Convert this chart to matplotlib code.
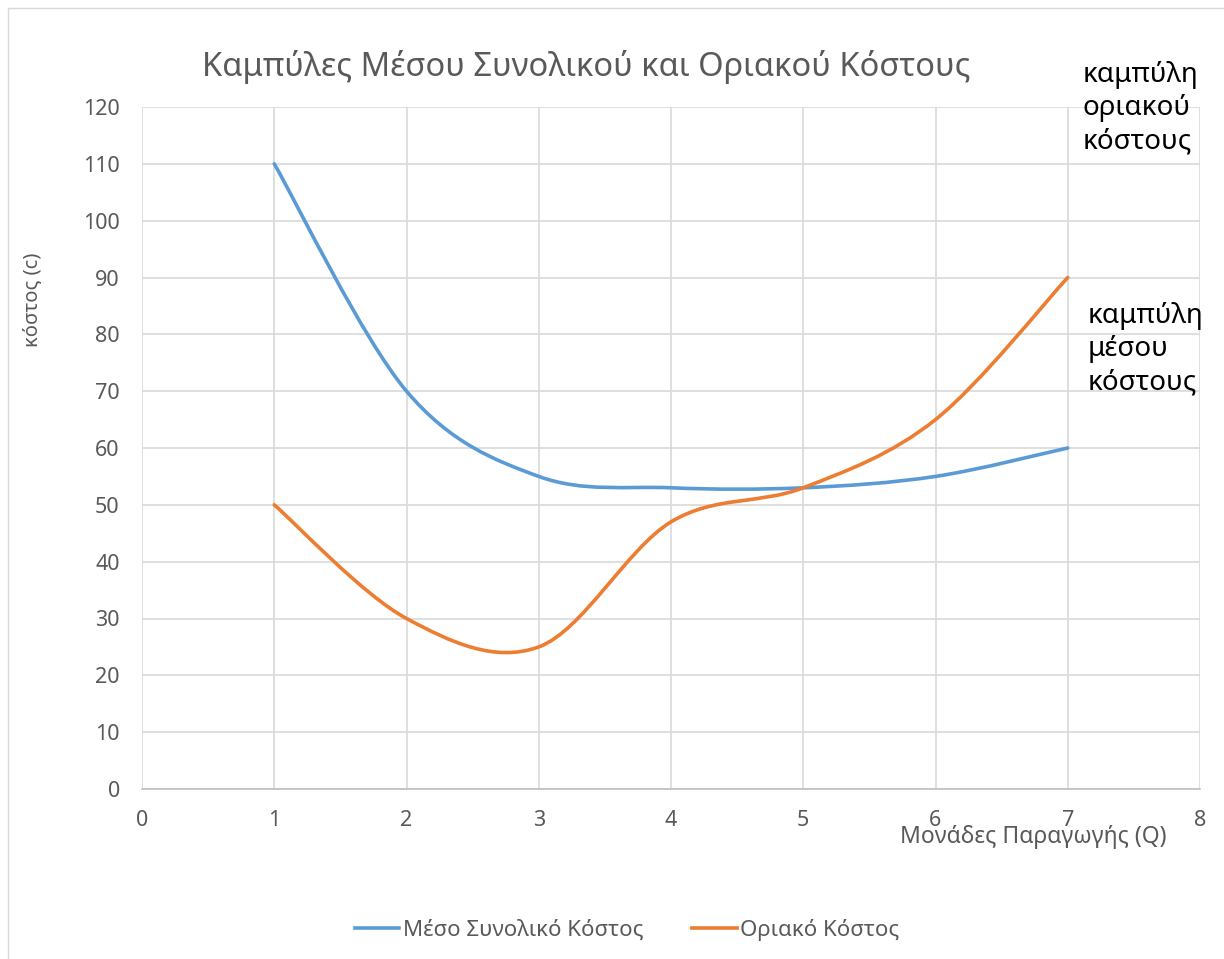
import matplotlib.pyplot as plt
from matplotlib.path import Path
from matplotlib.patches import PathPatch, Rectangle
from matplotlib.lines import Line2D

plt.rcParams['font.family'] = ['Noto Sans', 'DejaVu Sans']

# data
units = [1, 2, 3, 4, 5, 6, 7]
avg_total_cost = [110, 70, 55, 53, 53, 55, 60]
marginal_cost = [50, 30, 25, 47, 53, 65, 90]

title = 'Καμπύλες Μέσου Συνολικού και Οριακού Κόστους'
series_names = ['Μέσο Συνολικό Κόστος', 'Οριακό Κόστος']
x_label = 'Μονάδες Παραγωγής (Q)'
y_label = 'κόστος (c)'
note_mc = 'καμπύλη\nοριακού\nκόστους'
note_ac = 'καμπύλη\nμέσου\nκόστους'

BLUE = '#5B9BD5'
ORANGE = '#ED7D31'
GRID = '#D9D9D9'
TEXT = '#595959'


def smooth_path(xs, ys):
    # excel-style smoothed line: cubic bezier through the points
    n = len(xs)
    verts = [(xs[0], ys[0])]
    codes = [Path.MOVETO]
    for i in range(n - 1):
        p0 = max(i - 1, 0)
        p3 = min(i + 2, n - 1)
        c1 = (xs[i] + (xs[i + 1] - xs[p0]) / 6, ys[i] + (ys[i + 1] - ys[p0]) / 6)
        c2 = (xs[i + 1] - (xs[p3] - xs[i]) / 6, ys[i + 1] - (ys[p3] - ys[i]) / 6)
        verts += [c1, c2, (xs[i + 1], ys[i + 1])]
        codes += [Path.CURVE4] * 3
    return Path(verts, codes)


fig = plt.figure(figsize=(12.24, 9.59), dpi=100)
fig.patches.append(Rectangle((8 / 1224, -0.1), 1.2, 1 - 8 / 959 + 0.1, transform=fig.transFigure,
                             fill=False, edgecolor='#D9D9D9', linewidth=1))

ax = fig.add_axes([142 / 1224, 1 - 789 / 959, (1200 - 142) / 1224, (789 - 107) / 959])

for ys, color in [(avg_total_cost, BLUE), (marginal_cost, ORANGE)]:
    ax.add_patch(PathPatch(smooth_path(units, ys), fill=False, edgecolor=color,
                           linewidth=2.6, capstyle='round', zorder=3))

ax.set_xlim(0, 8)
ax.set_ylim(0, 120)
ax.set_xticks(range(0, 9))
ax.set_yticks(range(0, 121, 10))
ax.grid(True, color=GRID, linewidth=1.2)
ax.set_axisbelow(True)
for side in ['top', 'right', 'left']:
    ax.spines[side].set_visible(False)
ax.spines['bottom'].set_color('#BFBFBF')
ax.spines['bottom'].set_linewidth(1.2)
ax.tick_params(length=0, labelsize=15.5, labelcolor=TEXT)
ax.tick_params(axis='x', pad=15)
ax.tick_params(axis='y', pad=16)

fig.text(586 / 1224, 1 - 67 / 959, title, ha='center', va='center', fontsize=23.5,
         color=TEXT, fontweight='light')
fig.text(32 / 1224, 1 - 300 / 959, y_label, rotation=90, ha='center', va='center',
         fontsize=14.5, color=TEXT)
fig.text(1033 / 1224, 1 - 837 / 959, x_label, ha='center', va='center', fontsize=16.5, color=TEXT)

fig.text(1083 / 1224, 1 - 61 / 959, note_mc, ha='left', va='top', fontsize=20,
         color='black', linespacing=1.25)
fig.text(1088 / 1224, 1 - 302 / 959, note_ac, ha='left', va='top', fontsize=20,
         color='black', linespacing=1.25)

handles = [Line2D([], [], color=BLUE, linewidth=2.6), Line2D([], [], color=ORANGE, linewidth=2.6)]
fig.legend(handles, series_names, loc='center', bbox_to_anchor=(627 / 1224, 1 - 930 / 959),
           ncol=2, frameon=False, fontsize=16, labelcolor=TEXT, handlelength=2.0,
           handletextpad=0.15, columnspacing=2.2)

fig.savefig('out.png', dpi=100)
